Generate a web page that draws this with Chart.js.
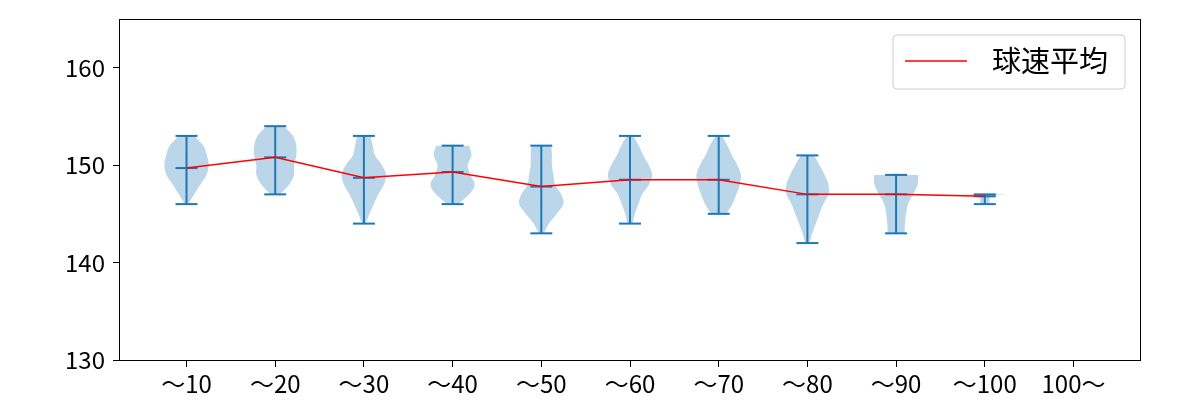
<!DOCTYPE html>
<html><head><meta charset="utf-8">
<script src="https://cdn.jsdelivr.net/npm/chart.js@4.4.1/dist/chart.umd.min.js"></script>
<style>html,body{margin:0;padding:0;background:#fff;}#wrap{width:1200px;height:400px;}</style>
</head><body><div id="wrap"><canvas id="c" width="1200" height="400"></canvas></div>
<script>
const categories = ['〜10','〜20','〜30','〜40','〜50','〜60','〜70','〜80','〜90','〜100','100〜'];
const means = [149.7,150.8,148.7,149.3,147.8,148.5,148.5,147.0,147.0,146.8,null];
const mins  = [146,147,144,146,143,144,145,142,143,146,null];
const maxs  = [153,154,153,152,152,153,153,151,149,147,null];
// violin outline: levels (km/h) and relative half-widths
const violinLevels = [
  [146,147,148,149,150,151,152,153],
  [147,148,149,150,151,152,153,154],
  [144,145,146,147,148,149,150,151,152,153],
  [146,147,148,149,150,151,152],
  [143,144,145,146,147,148,149,150,151,152],
  [144,145,146,147,148,149,150,151,152,153],
  [145,146,147,148,149,150,151,152,153],
  [142,143,144,145,146,147,148,149,150,151],
  [143,144,145,146,147,148,149],
  [146,146.6,146.85,147],
  null
];
const violinWidths = [
  [0.08,0.35,0.62,0.9,1.0,0.92,0.76,0.35],
  [0.2,0.62,0.85,0.85,0.95,0.95,0.8,0.4],
  [0.08,0.25,0.45,0.65,0.9,1.0,0.82,0.5,0.4,0.3],
  [0.25,0.75,1.0,0.8,0.68,0.85,0.75],
  [0.12,0.35,0.7,1.0,0.9,0.62,0.55,0.48,0.48,0.45],
  [0.12,0.22,0.38,0.55,0.85,1.0,0.85,0.6,0.4,0.15],
  [0.35,0.62,0.8,0.95,1.0,0.85,0.6,0.4,0.15],
  [0.1,0.22,0.38,0.55,0.72,0.95,0.95,0.78,0.55,0.3],
  [0.38,0.4,0.45,0.54,0.77,0.97,1.0],
  [0.22,0.23,0.4,1.0],
  null
];
const yTicks = [130,140,150,160];
const legendLabel = '球速平均';

const C0 = '#1f77b4';
const FONT = '"Noto Sans CJK JP", "Noto Sans", sans-serif';

const meanPts = [];
means.forEach((m,i)=>{ if(m!=null) meanPts.push({x:i+1,y:m}); });
const rangePts = [];
const capPts = [];
mins.forEach((m,i)=>{
  if(m==null) return;
  rangePts.push({x:i+1,y:mins[i]},{x:i+1,y:maxs[i]},{x:i+1,y:null});
  capPts.push({x:i+1,y:mins[i]},{x:i+1,y:maxs[i]},{x:i+1,y:means[i]});
});

function smoothSide(ctx, pts){
  for(let i=0;i<pts.length-1;i++){
    const p0=pts[i-1]||pts[i], p1=pts[i], p2=pts[i+1], p3=pts[i+2]||p2;
    ctx.bezierCurveTo(p1.x+(p2.x-p0.x)/6, p1.y+(p2.y-p0.y)/6, p2.x-(p3.x-p1.x)/6, p2.y-(p3.y-p1.y)/6, p2.x, p2.y);
  }
}

const violinPlugin = {
  id:'violins',
  beforeDatasetsDraw(chart){
    const ctx=chart.ctx, xs=chart.scales.x, ys=chart.scales.y, a=chart.chartArea;
    ctx.save();
    ctx.beginPath(); ctx.rect(a.left,a.top,a.right-a.left,a.bottom-a.top); ctx.clip();
    ctx.fillStyle='rgba(31,119,180,0.3)';
    violinLevels.forEach((lv,i)=>{
      if(!lv) return;
      const w=violinWidths[i], pos=i+1;
      const left=lv.map((v,k)=>({x:xs.getPixelForValue(pos-0.25*w[k]),y:ys.getPixelForValue(v)}));
      const right=lv.map((v,k)=>({x:xs.getPixelForValue(pos+0.25*w[k]),y:ys.getPixelForValue(v)})).reverse();
      ctx.beginPath();
      ctx.moveTo(left[0].x,left[0].y);
      smoothSide(ctx,left);
      ctx.lineTo(right[0].x,right[0].y);
      smoothSide(ctx,right);
      ctx.closePath();
      ctx.fill();
    });
    ctx.restore();
  },
  afterDatasetsDraw(chart){
    const ctx=chart.ctx, a=chart.chartArea;
    ctx.save();
    ctx.strokeStyle='#000'; ctx.lineWidth=1;
    ctx.strokeRect(Math.round(a.left)-0.5, Math.round(a.top)+0.5, Math.round(a.right-a.left)+1, Math.round(a.bottom-a.top));
    // legend
    const bx=a.right-247, by=a.top+16, bw=232, bh=54, r=4;
    ctx.beginPath();
    ctx.moveTo(bx+r,by); ctx.lineTo(bx+bw-r,by); ctx.arcTo(bx+bw,by,bx+bw,by+r,r);
    ctx.lineTo(bx+bw,by+bh-r); ctx.arcTo(bx+bw,by+bh,bx+bw-r,by+bh,r);
    ctx.lineTo(bx+r,by+bh); ctx.arcTo(bx,by+bh,bx,by+bh-r,r);
    ctx.lineTo(bx,by+r); ctx.arcTo(bx,by,bx+r,by,r); ctx.closePath();
    ctx.fillStyle='rgba(255,255,255,0.8)'; ctx.fill();
    ctx.strokeStyle='#cccccc'; ctx.lineWidth=1; ctx.stroke();
    ctx.beginPath(); ctx.moveTo(bx+12,by+26); ctx.lineTo(bx+74,by+26);
    ctx.strokeStyle='#ff0000'; ctx.lineWidth=1.5; ctx.stroke();
    ctx.fillStyle='#000'; ctx.font='29px '+FONT; ctx.textBaseline='middle'; ctx.textAlign='left';
    ctx.fillText(legendLabel,bx+99,by+26);
    ctx.restore();
  }
};

new Chart(document.getElementById('c'),{
  type:'line',
  data:{datasets:[
    {label:legendLabel,data:meanPts,borderColor:'#ff0000',borderWidth:1.5,pointRadius:0,fill:false,tension:0,order:0},
    {label:'range',data:rangePts,borderColor:C0,borderWidth:2,pointRadius:0,spanGaps:false,fill:false,order:1},
    {label:'caps',data:capPts,showLine:false,pointStyle:'line',pointRadius:11,pointBorderWidth:2,pointBorderColor:C0,pointBackgroundColor:C0,order:2}
  ]},
  options:{
    responsive:false, animation:false, devicePixelRatio:1, events:[],
    layout:{padding:{top:19,right:60,left:0,bottom:0}},
    plugins:{legend:{display:false},tooltip:{enabled:false}},
    scales:{
      x:{type:'linear',min:0.25,max:11.75,
        afterBuildTicks:s=>{s.ticks=categories.map((_,i)=>({value:i+1}));},
        afterFit:s=>{s.height=40;s.paddingLeft=0;s.paddingRight=0;},
        ticks:{callback:v=>categories[v-1],color:'#000',font:{family:FONT,size:24},padding:2,maxRotation:0,autoSkip:false},
        grid:{display:true,drawOnChartArea:false,drawTicks:true,tickLength:7,tickColor:'#000',tickWidth:1},
        border:{display:false}},
      y:{min:130,max:165,
        afterBuildTicks:s=>{s.ticks=yTicks.map(v=>({value:v}));},
        afterFit:s=>{s.width=120;s.paddingTop=0;s.paddingBottom=0;},
        ticks:{color:'#000',font:{family:FONT,size:24},padding:8},
        grid:{display:true,drawOnChartArea:false,drawTicks:true,tickLength:7,tickColor:'#000',tickWidth:1},
        border:{display:false}}
    }
  },
  plugins:[violinPlugin]
});
</script></body></html>
